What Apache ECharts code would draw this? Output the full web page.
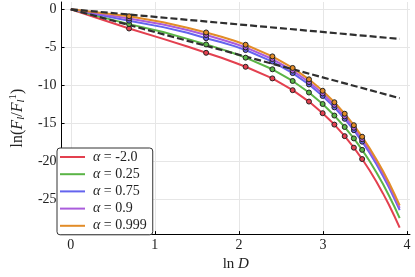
<!DOCTYPE html>
<html><head><meta charset="utf-8">
<script src="https://cdn.jsdelivr.net/npm/echarts@6/dist/echarts.min.js"></script>
<style>html,body{margin:0;padding:0;background:#fff}#c{width:415px;height:277px}</style>
</head><body><div id="c"></div>
<script>
// D values (x axis is ln D)
const D = [1,2,3,4,5,6,7,8,11,14,17,20,23,26,29,32,35,38,41,44,47,50];
const markerD = [2,5,8,11,14,17,20,23,26,29,32];
const alphaLabels = ['-2.0','0.25','0.75','0.9','0.999'];
const lnF_m2    = [0,-2.53,-3.9,-4.9,-5.73,-6.38,-7.0,-7.57,-9.1,-10.65,-12.15,-13.68,-15.18,-16.7,-18.22,-19.72,-21.23,-22.73,-24.24,-25.74,-27.25,-28.75];
const lnF_025   = [0,-1.95,-3.0,-3.9,-4.63,-5.25,-5.82,-6.37,-7.9,-9.44,-10.96,-12.47,-13.99,-15.5,-17.0,-18.51,-20.01,-21.51,-23.01,-24.51,-26.0,-27.5];
const lnF_075   = [0,-1.5,-2.35,-3.1,-3.81,-4.33,-4.85,-5.36,-6.88,-8.4,-9.9,-11.41,-12.91,-14.42,-15.92,-17.43,-18.93,-20.44,-21.94,-23.45,-24.95,-26.45];
const lnF_09    = [0,-1.2,-2.0,-2.72,-3.39,-3.97,-4.5,-5.02,-6.55,-8.07,-9.58,-11.08,-12.59,-14.1,-15.6,-17.11,-18.62,-20.12,-21.63,-23.14,-24.65,-26.15];
const lnF_0999  = [0,-0.92,-1.7,-2.42,-3.05,-3.62,-4.15,-4.67,-6.2,-7.72,-9.22,-10.73,-12.24,-13.75,-15.26,-16.78,-18.29,-19.8,-21.3,-22.81,-24.32,-25.82];
// reference dashed lines
const refX = [0, 3.912];
const refSlope1 = [0, -3.9];
const refSlope3 = [0, -11.7];
const xTicks = [0,1,2,3,4];
const yTicks = [0,-5,-10,-15,-20,-25];

const colors = ['#e3404f','#5ab446','#6464ee','#aa5cdc','#e28c28'];
const allVals = [lnF_m2, lnF_025, lnF_075, lnF_09, lnF_0999];

const series = [];
allVals.forEach((vals, k) => {
  series.push({
    name: alphaLabels[k], type: 'line', symbol: 'none', z: 2,
    data: D.map((d, i) => [Math.log(d), vals[i]]),
    lineStyle: {color: colors[k], width: 2}, itemStyle: {color: colors[k]},
    animation: false
  });
});
series.push({type:'line', symbol:'none', z:3, data: refX.map((x,i)=>[x, refSlope1[i]]),
  lineStyle:{color:'#2f2f2f', width:2.2, type:[7,3]}, animation:false});
series.push({type:'line', symbol:'none', z:3, data: refX.map((x,i)=>[x, refSlope3[i]]),
  lineStyle:{color:'#2f2f2f', width:2.2, type:[7,3]}, animation:false});
allVals.forEach((vals, k) => {
  series.push({
    type: 'scatter', z: 4, symbol: 'circle', symbolSize: 5,
    data: D.map((d, i) => [d, vals[i]]).filter(p => markerD.includes(p[0])).map(p => [Math.log(p[0]), p[1]]),
    itemStyle: {color: colors[k], borderColor: '#222', borderWidth: 1, opacity: 1},
    animation: false
  });
});

const chart = echarts.init(document.getElementById('c'), null, {renderer: 'canvas'});
const serif = 'Liberation Serif';
chart.setOption({
  animation: false,
  textStyle: {fontFamily: serif},
  grid: {left: 51, right: 5, top: 2, bottom: 36, containLabel: false},
  xAxis: {
    type: 'value', min: -0.11, max: 4.035,
    name: '{n|ln }{i|D}', nameLocation: 'middle', nameGap: 18,
    nameTextStyle: {rich: {n: {fontFamily: serif, fontSize: 15, color: '#222'}, i: {fontFamily: serif, fontStyle: 'italic', fontSize: 15, color: '#222'}}},
    axisLine: {onZero: false, lineStyle: {color: '#000', width: 1}},
    axisTick: {inside: true, length: 3, customValues: xTicks, lineStyle: {color: '#000'}},
    axisLabel: {customValues: xTicks, fontFamily: serif, fontSize: 14, color: '#222', margin: 4},
    splitLine: {show: true, lineStyle: {color: '#e6e6e6', width: 1}}
  },
  yAxis: {
    type: 'value', min: -29.6, max: 0.96,
    name: '{n|ln(}{i|F}{sb|l}{n|/}{i|F}{sb|l}{sp|1}{n|)}', nameLocation: 'middle', nameGap: 32, nameRotate: 90,
    nameTextStyle: {rich: {
      n: {fontFamily: serif, fontSize: 16, color: '#222', lineHeight: 19},
      i: {fontFamily: serif, fontStyle: 'italic', fontSize: 16, color: '#222', lineHeight: 19},
      sb: {fontFamily: serif, fontStyle: 'italic', fontSize: 11, color: '#222', verticalAlign: 'bottom', lineHeight: 10},
      sp: {fontFamily: serif, fontSize: 11, color: '#222', verticalAlign: 'top', lineHeight: 10}
    }},
    axisLine: {onZero: false, lineStyle: {color: '#000', width: 1}},
    axisTick: {inside: true, length: 3, customValues: yTicks, lineStyle: {color: '#000'}},
    axisLabel: {customValues: yTicks, fontFamily: serif, fontSize: 14, color: '#222', margin: 5},
    splitLine: {show: true, lineStyle: {color: '#e6e6e6', width: 1}}
  },
  legend: {
    data: alphaLabels.map(n => ({name: n, icon: 'rect'})), orient: 'vertical', left: 57, top: 148,
    padding: [2, 6, 2, 3], itemGap: 3.2, itemWidth: 25, itemHeight: 2,
    backgroundColor: '#fff', borderColor: '#333', borderWidth: 1, borderRadius: 3,
    formatter: name => '{i|α}{t| = ' + name + '}',
    textStyle: {padding: [0,0,0,3], lineHeight: 14, rich: {
      i: {fontFamily: serif, fontStyle: 'italic', fontSize: 14, color: '#222', lineHeight: 14},
      t: {fontFamily: serif, fontSize: 14, color: '#222', lineHeight: 14}
    }}
  },
  series: series
});
</script></body></html>
